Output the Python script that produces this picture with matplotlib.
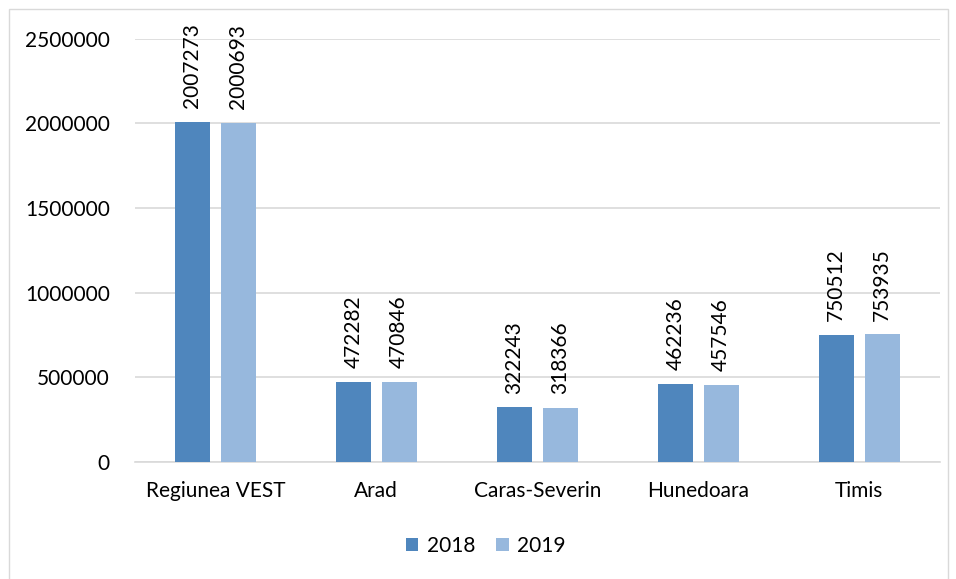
import matplotlib.pyplot as plt
import numpy as np
from matplotlib.patches import Rectangle

categories = ["Regiunea VEST", "Arad", "Caras-Severin", "Hunedoara", "Timis"]
values_2018 = [2007273, 472282, 322243, 462236, 750512]
values_2019 = [2000693, 470846, 318366, 457546, 753935]
yticks = [0, 500000, 1000000, 1500000, 2000000, 2500000]

plt.rcParams["font.family"] = ["Lato", "DejaVu Sans"]
fs = 15

fig = plt.figure(figsize=(9.56, 5.79), dpi=100)
ax = fig.add_axes([0.141, 0.202, 0.842, 0.731])

x = np.arange(len(categories))
w = 0.217
gap = 0.068
off = (w + gap) / 2
b1 = ax.bar(x - off, values_2018, w, color="#4F86BD", label="2018", zorder=3)
b2 = ax.bar(x + off, values_2019, w, color="#97B8DD", label="2019", zorder=3)

for bars, vals in ((b1, values_2018), (b2, values_2019)):
    for r, v in zip(bars, vals):
        ax.annotate(str(v), (r.get_x() + r.get_width() / 2, v), xytext=(0, 10),
                    textcoords="offset points", rotation=90, ha="center", va="bottom",
                    fontsize=fs)

ax.set_xlim(-0.5, len(categories) - 0.5)
ax.set_ylim(0, 2500000)
ax.set_yticks(yticks)
ax.set_yticklabels([str(t) for t in yticks])
ax.set_xticks(x)
ax.set_xticklabels(categories)
ax.tick_params(axis="both", length=0, labelsize=fs, colors="black")
ax.tick_params(axis="y", pad=18)
ax.tick_params(axis="x", pad=14)
ax.yaxis.grid(True, color="#D9D9D9", linewidth=1.2, zorder=0)
for s in ["top", "right", "left"]:
    ax.spines[s].set_visible(False)
ax.spines["bottom"].set_color("#D9D9D9")
ax.spines["bottom"].set_linewidth(1.2)

fig.legend(handles=[b1, b2], loc="center", bbox_to_anchor=(0.508, 0.057), ncol=2,
           frameon=False, fontsize=fs, handlelength=0.6, handleheight=0.6,
           columnspacing=1.0, handletextpad=0.4)

fig.add_artist(Rectangle((9 / 956, -0.01), 939 / 956, 1 - 9 / 579 + 0.01,
                         transform=fig.transFigure, fill=False,
                         edgecolor="#D9D9D9", linewidth=1.0))

fig.savefig("out.png", dpi=100)
